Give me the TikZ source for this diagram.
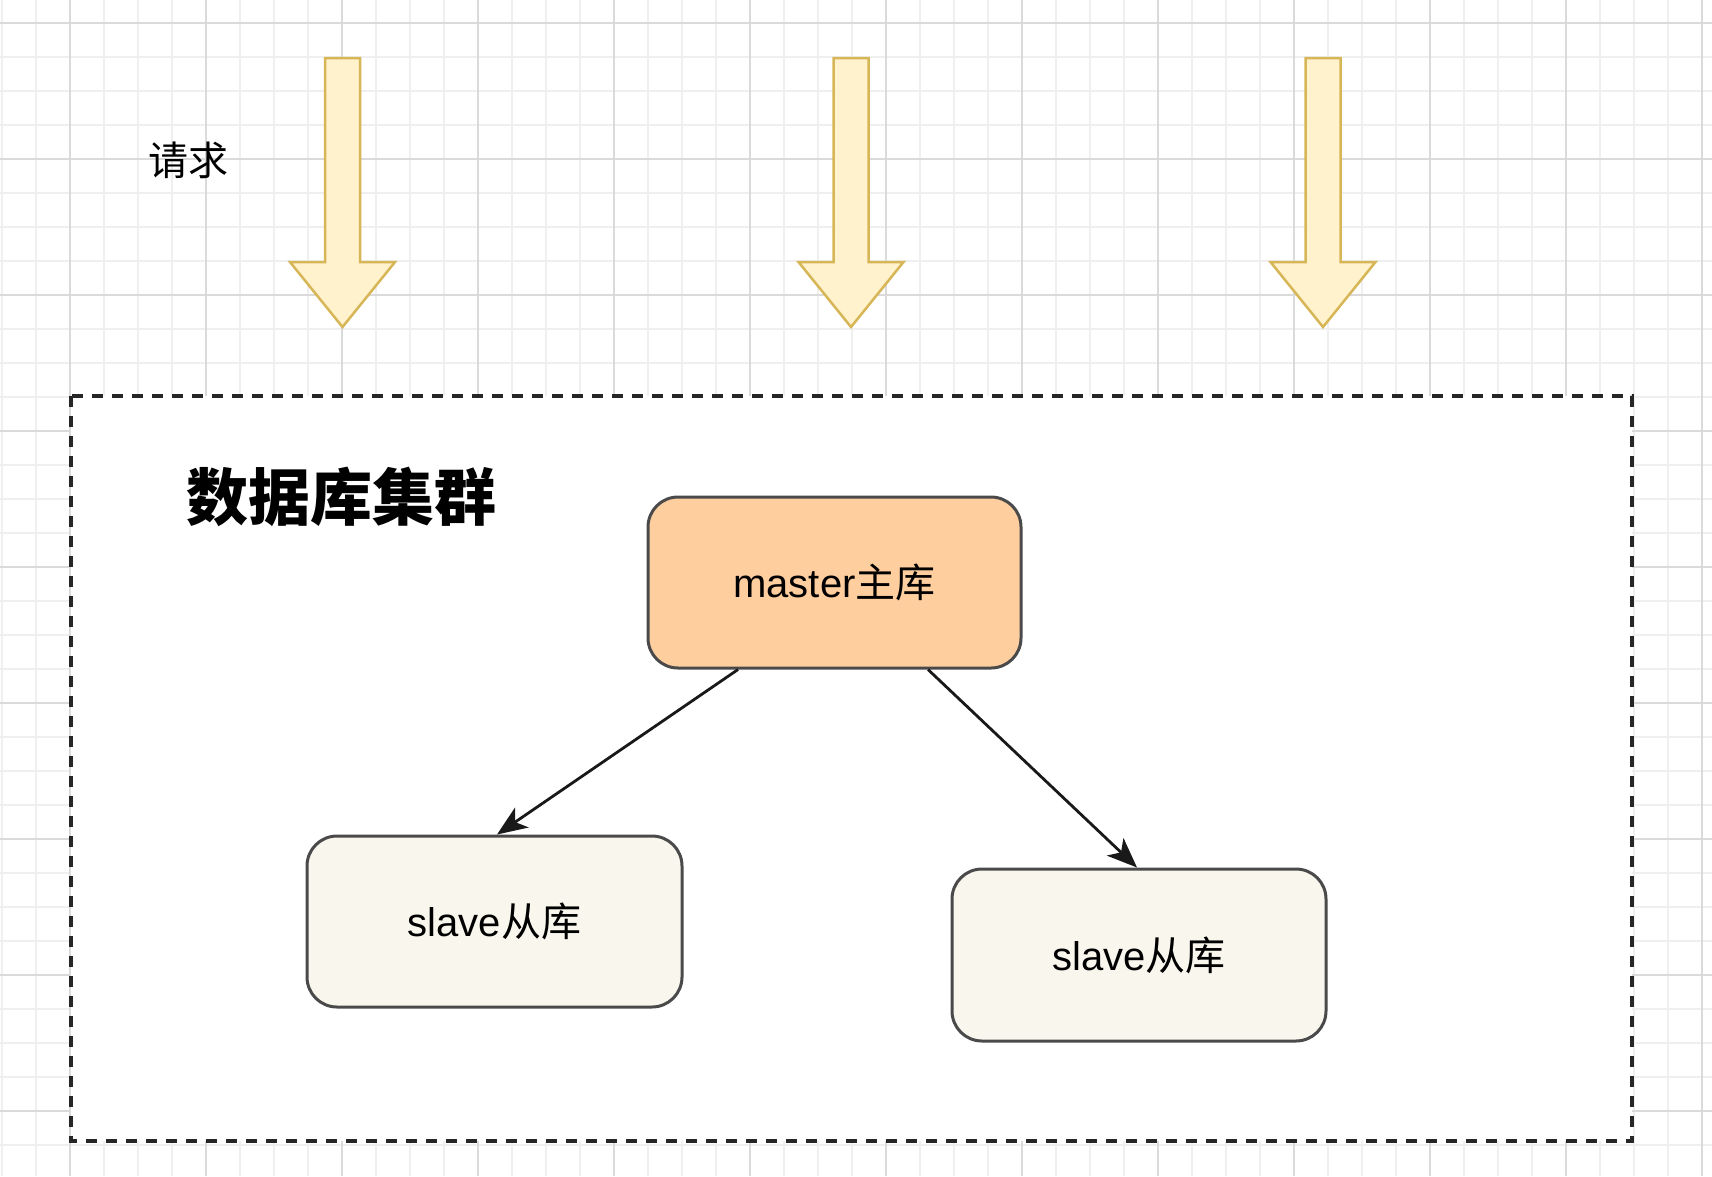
\documentclass[tikz,border=0pt]{standalone}
\usepackage{fontspec}
\setmainfont{Liberation Sans}
\newfontfamily\cjk{Noto Sans CJK SC}
\usetikzlibrary{arrows.meta}
\definecolor{gridminor}{HTML}{EFEFEF}
\definecolor{gridmajor}{HTML}{DADADA}
\definecolor{reqfill}{HTML}{FFF2CC}
\definecolor{reqdraw}{HTML}{D6B656}
\definecolor{masterfill}{HTML}{FFCE9F}
\definecolor{slavefill}{HTML}{F9F7ED}
\definecolor{boxdraw}{HTML}{4A4A4A}
\tikzset{
  dbbox/.style={draw=boxdraw, line width=3pt, rounded corners=30pt, minimum width=#1, minimum height=171pt, inner sep=0pt, font=\fontsize{40}{48}\selectfont},
  reqarrow/.style={draw=reqdraw, fill=reqfill, line width=2.5pt, line join=miter},
  link/.style={draw=black!90, line width=2.8pt, -{Stealth[length=30pt, width=24pt, inset=8pt]}},
}
\begin{document}
\begin{tikzpicture}[x=1pt, y=-1pt]
\useasboundingbox (0,0) rectangle (1712,1176);
\fill[white] (0,0) rectangle (1712,1176);
% grid
\foreach \i in {0,...,50} { \draw[gridminor, line width=1.5pt] ({2+34*\i},0) -- ({2+34*\i},1176); }
\foreach \i in {0,...,35} { \draw[gridminor, line width=1.5pt] (0,{23+34*\i}) -- (1712,{23+34*\i}); }
\foreach \i in {0,...,12} { \draw[gridmajor, line width=1.5pt] ({70+136*\i},0) -- ({70+136*\i},1176); }
\foreach \i in {0,...,8} { \draw[gridmajor, line width=1.5pt] (0,{23+136*\i}) -- (1712,{23+136*\i}); }
% request arrows
\foreach \cx in {342.5, 851, 1323} {
  \draw[reqarrow] (\cx-17.5,58) -- (\cx+17.5,58) -- (\cx+17.5,262) -- (\cx+52.5,262) -- (\cx,327) -- (\cx-52.5,262) -- (\cx-17.5,262) -- cycle;
}
\node[font=\cjk\fontsize{40}{48}\selectfont] (req) at (188,160) {请求};
% cluster
\draw[black!85, fill=white, line width=3.5pt, dash pattern=on 11pt off 9pt] (71,396) rectangle (1632,1141);
\node[font=\cjk\bfseries\fontsize{62}{70}\selectfont] (title) at (341.5,497) {数据库集群};
\node[dbbox=373pt, fill=masterfill] (master) at (834.5,582.5) {master{\cjk 主库}};
\node[dbbox=375pt, fill=slavefill] (slave1) at (494.5,921.5) {slave{\cjk 从库}};
\node[dbbox=374pt, fill=slavefill, minimum height=172pt] (slave2) at (1139,955) {slave{\cjk 从库}};
\draw[link] ([xshift=-96.5pt]master.south) -- ([xshift=2.5pt]slave1.north);
\draw[link] ([xshift=93.5pt]master.south) -- ([xshift=-2pt]slave2.north);
\end{tikzpicture}
\end{document}
